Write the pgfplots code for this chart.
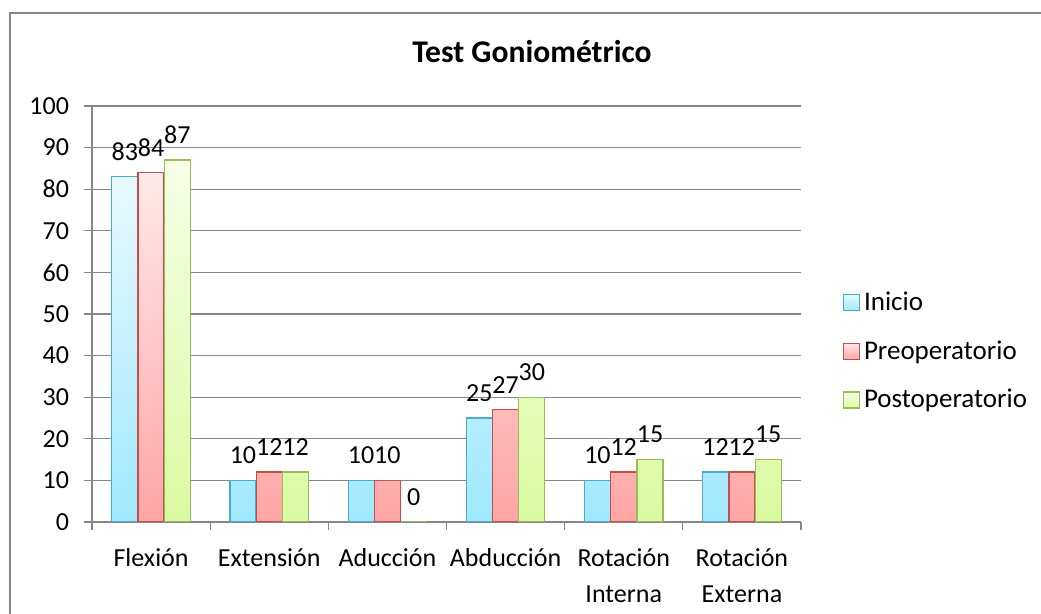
\documentclass[border=0pt]{standalone}
\usepackage{pgfplots}
\pgfplotsset{compat=1.18}
\usepackage{fontspec}
\setmainfont{Carlito}

\definecolor{gridgray}{RGB}{134,134,134}
\definecolor{inicioB}{RGB}{75,172,198}
\definecolor{inicioT}{RGB}{232,249,255}
\definecolor{inicioD}{RGB}{160,232,255}
\definecolor{preB}{RGB}{192,80,77}
\definecolor{preT}{RGB}{255,233,233}
\definecolor{preD}{RGB}{255,165,165}
\definecolor{postB}{RGB}{155,187,89}
\definecolor{postT}{RGB}{246,255,232}
\definecolor{postD}{RGB}{217,250,160}

\pgfplotsset{
  sqlegend/.style={legend image code/.code={\draw[##1, line width=0.6pt] (0pt,-4pt) rectangle (8pt,4pt);}},
}
\newcommand{\st}{\rule{0pt}{11pt}}

\begin{document}
\begin{tikzpicture}
\path[use as bounding box] (0,0) rectangle (520.5pt,307pt);
\draw[gridgray, line width=0.6pt] (5pt,0) -- (5pt,300.5pt) -- (520.5pt,300.5pt);
\node[font=\fontsize{15.8}{19}\selectfont\bfseries] at (266pt,281pt) {Test Goniométrico};
\begin{axis}[
    at={(46pt,46pt)}, anchor=south west,
    scale only axis, width=354.5pt, height=208pt,
    ybar=0.15pt, bar width=13pt,
    xmin=-0.5, xmax=5.5, ymin=0, ymax=100,
    ytick={0,10,...,100},
    xtick={0,...,5},
    xticklabels={\st Flexión, \st Extensión, \st Aducción, \st Abducción, {\st Rotación\\Interna}, {\st Rotación\\Externa}},
    minor xtick={-0.5,0.5,...,5.5},
    axis x line*=bottom, axis y line*=left,
    axis line style={gridgray, line width=0.6pt, -},
    ymajorgrids, grid style={gridgray, line width=0.6pt},
    tick align=outside,
    major tick length=4pt, minor tick length=4pt,
    every major x tick/.style={draw=none},
    every minor x tick/.style={gridgray, line width=0.6pt},
    every major y tick/.style={gridgray, line width=0.6pt},
    /pgf/number format/assume math mode=true,
    tick label style={font=\fontsize{13}{17.5}\selectfont, text=black},
    xticklabel style={align=center, anchor=north, yshift=-3.5pt, font=\fontsize{13}{18}\selectfont},
    yticklabel style={xshift=-4pt},
    nodes near coords,
    every node near coord/.append style={anchor=center, yshift=12.5pt, font=\fontsize{13}{16}\selectfont, text=black},
    legend style={draw=none, fill=none, at={(1.05,0.41)}, anchor=west,
      font=\fontsize{13.5}{16}\selectfont, row sep=9.5pt},
    legend cell align=left,
]
\addplot[draw=inicioB, top color=inicioT, bottom color=inicioD, line width=0.6pt, sqlegend]
  coordinates {(0,83) (1,10) (2,10) (3,25) (4,10) (5,12)};
\addplot[draw=preB, top color=preT, bottom color=preD, line width=0.6pt, sqlegend]
  coordinates {(0,84) (1,12) (2,10) (3,27) (4,12) (5,12)};
\addplot[draw=postB, top color=postT, bottom color=postD, line width=0.6pt, sqlegend]
  coordinates {(0,87) (1,12) (2,0) (3,30) (4,15) (5,15)};
\legend{Inicio, Preoperatorio, Postoperatorio}
\end{axis}
\end{tikzpicture}
\end{document}
